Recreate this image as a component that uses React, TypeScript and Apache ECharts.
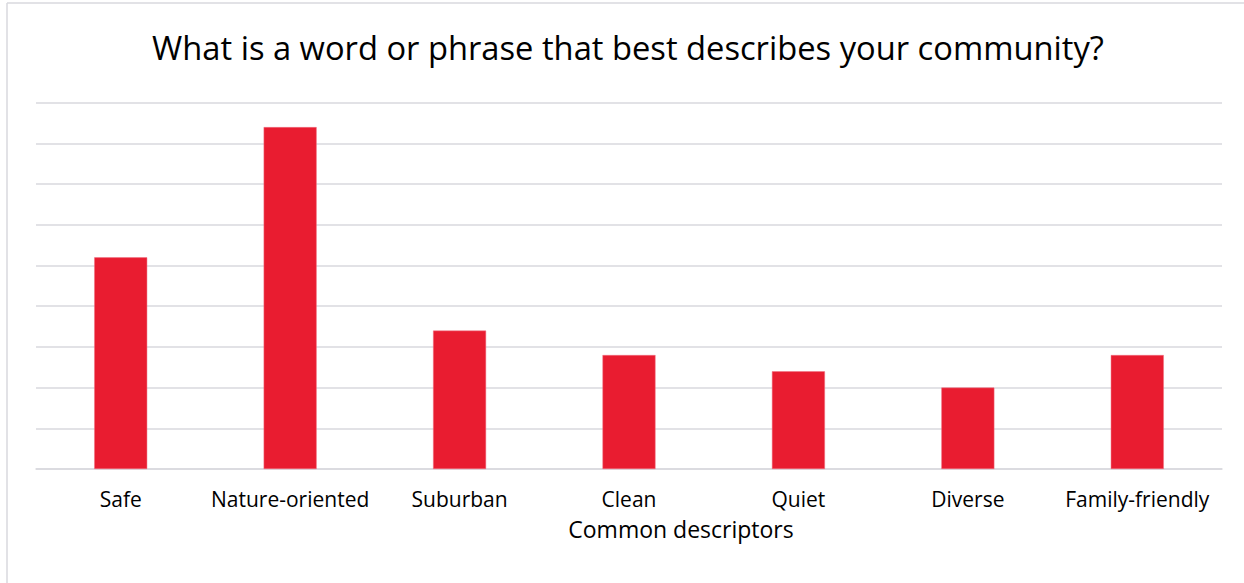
import React, { useEffect, useRef } from "react";
import * as echarts from "echarts";

const categories = ["Safe", "Nature-oriented", "Suburban", "Clean", "Quiet", "Diverse", "Family-friendly"];
const counts = [26, 42, 17, 14, 12, 10, 14];
const titleText = "What is a word or phrase that best describes your community?";
const xAxisName = "Common descriptors";

export default function App() {
  const ref = useRef<HTMLDivElement>(null);
  useEffect(() => {
    if (!ref.current) return;
    const chart = echarts.init(ref.current, undefined, { renderer: "svg" });
    const font = "'Open Sans', sans-serif";
    chart.setOption({
      animation: false,
      backgroundColor: "#ffffff",
      grid: { left: 36, right: 22, top: 102.7, bottom: 114, containLabel: false },
      xAxis: {
        type: "category",
        data: categories,
        axisLine: { show: true, lineStyle: { color: "#D9D9DE", width: 1.5 } },
        axisTick: { show: false },
        axisLabel: { fontFamily: font, fontSize: 21, color: "#000000", margin: 19, interval: 0 },
      },
      yAxis: {
        type: "value",
        min: 0,
        max: 45,
        interval: 5,
        axisLabel: { show: false },
        axisLine: { show: false },
        axisTick: { show: false },
        splitLine: { lineStyle: { color: "#D9D9DE", width: 1.5 } },
      },
      series: [
        {
          type: "bar",
          data: counts,
          barWidth: 53,
          itemStyle: { color: "#E91C30", borderColor: "#F07080", borderWidth: 0.5 },
        },
      ],
      graphic: [
        { type: "line", shape: { x1: 7, y1: 3, x2: 7, y2: 583 }, style: { stroke: "#D9D9DE", lineWidth: 1.5 } },
        { type: "line", shape: { x1: 7, y1: 3, x2: 1244, y2: 3 }, style: { stroke: "#D9D9DE", lineWidth: 1.5 } },
        {
          type: "text",
          x: 628,
          y: 47,
          style: {
            text: titleText,
            fontFamily: font,
            fontSize: 32.7,
            fill: "#000000",
            textAlign: "center",
            textVerticalAlign: "middle",
          },
        },
        {
          type: "text",
          x: 681,
          y: 529,
          style: {
            text: xAxisName,
            fontFamily: font,
            fontSize: 23,
            fill: "#000000",
            textAlign: "center",
            textVerticalAlign: "middle",
          },
        },
      ],
    });
    return () => chart.dispose();
  }, []);
  return <div ref={ref} style={{ position: "absolute", left: 0, top: 0, width: 1244, height: 583 }} />;
}
